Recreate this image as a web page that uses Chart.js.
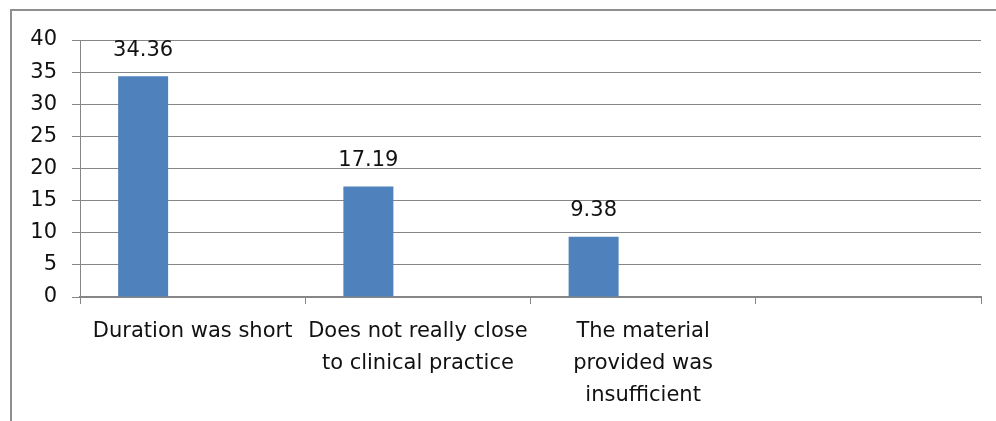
<!DOCTYPE html>
<html>
<head>
<meta charset="utf-8">
<script src="https://cdn.jsdelivr.net/npm/chart.js@4.4.1/dist/chart.umd.min.js"></script>
<style>
  html, body { margin: 0; padding: 0; background: #fff; overflow: hidden; }
  #frame { position: absolute; left: 10px; top: 9px; width: 2000px; height: 2000px;
           border: 2px solid #8f8f8f; }
  #wrap { position: absolute; left: 0; top: 0; width: 996px; height: 421px; }
</style>
</head>
<body>
<div id="frame"></div>
<div id="wrap"><canvas id="chart" width="996" height="421"></canvas></div>
<script>
// categories (multi-line as in the original)
const categories = [
    ['Duration was short'],
    ['Does not really close', 'to clinical practice'],
    ['The material', 'provided was', 'insufficient'],
    ''
];
const percentValues = [34.36, 17.19, 9.38, null];
const emptySeries = [null, null, null, null];
const yTicks = [0, 5, 10, 15, 20, 25, 30, 35, 40];

const FONT = 'DejaVu Sans';

// draws the value above each bar
const barValueLabels = {
    id: 'barValueLabels',
    afterDatasetsDraw(chart) {
        const c = chart.ctx;
        const meta = chart.getDatasetMeta(0);
        c.save();
        c.font = '21px "' + FONT + '"';
        c.fillStyle = '#111';
        c.textAlign = 'center';
        c.textBaseline = 'middle';
        meta.data.forEach((bar, i) => {
            const v = percentValues[i];
            if (v == null) return;
            c.fillText(v.toFixed(2), bar.x, bar.y - 26);
        });
        c.restore();
    }
};

const ctx = document.getElementById('chart').getContext('2d');
new Chart(ctx, {
    type: 'bar',
    data: {
        labels: categories,
        datasets: [{
            data: percentValues,
            backgroundColor: '#4f81bd',
            categoryPercentage: 0.879,
            barPercentage: 0.505
        }, {
            data: emptySeries,
            backgroundColor: '#c0504d',
            categoryPercentage: 0.879,
            barPercentage: 0.505
        }]
    },
    options: {
        responsive: false,
        animation: false,
        layout: { padding: { top: 40, left: 0, right: 15, bottom: 0 } },
        plugins: {
            legend: { display: false },
            tooltip: { enabled: false }
        },
        scales: {
            x: {
                grid: { drawOnChartArea: false, drawTicks: true, tickLength: 7, color: '#868686', offset: true },
                border: { color: '#868686', width: 2 },
                ticks: {
                    color: '#111',
                    font: { family: FONT, size: 21, lineHeight: 1.52 },
                    padding: 12,
                    maxRotation: 0,
                    autoSkip: false
                },
                afterFit(scale) { scale.height = 124; }
            },
            y: {
                min: 0,
                max: 40,
                afterBuildTicks(scale) { scale.ticks = yTicks.map(v => ({ value: v })); },
                grid: { color: '#868686', tickLength: 8 },
                border: { color: '#868686', width: 1 },
                ticks: {
                    color: '#111',
                    font: { family: FONT, size: 21 },
                    padding: 15
                },
                afterFit(scale) { scale.width = 80; }
            }
        }
    },
    plugins: [barValueLabels]
});
</script>
</body>
</html>
